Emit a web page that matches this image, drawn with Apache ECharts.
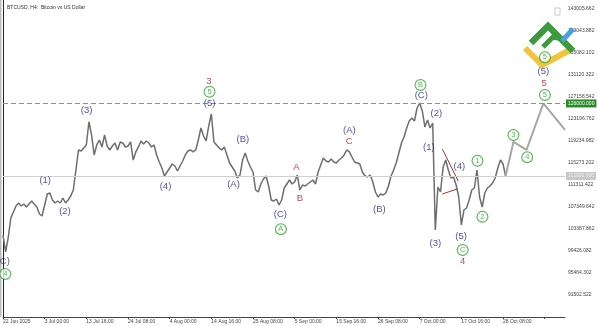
<!DOCTYPE html>
<html>
<head>
<meta charset="utf-8">
<script src="https://cdn.jsdelivr.net/npm/echarts@6/dist/echarts.min.js"></script>
<style>html,body{margin:0;padding:0;background:#fff}#c{width:598px;height:326px}</style>
</head>
<body>
<div id="c"></div>
<script>
const xLabels = ['22 Jun 2025','3 Jul 00:00','13 Jul 16:00','24 Jul 08:00','4 Aug 00:00','14 Aug 16:00','25 Aug 08:00','5 Sep 00:00','15 Sep 16:00','26 Sep 08:00','7 Oct 00:00','17 Oct 16:00','28 Oct 08:00'];
const yTicks = [91502.522, 95464.302, 99426.082, 103387.862, 107349.642, 111311.422, 115273.202, 119234.982, 123196.762, 127158.542, 131120.322, 135082.102, 139043.882, 143005.662];
const price = [
102310, 99250, 101770, 105370, 106450, 107530, 108070, 107530, 107890, 107350,
107890, 108430, 107890, 107350, 106090, 105730, 107710, 109690, 109870, 108610,
108070, 108430, 108070, 108970, 108070, 108610, 109330, 110410, 114010, 117620,
117440, 117980, 118520, 122700, 120320, 116720, 118520, 119420, 118160, 120320,
118340, 117620, 118340, 118880, 117620, 119060, 118880, 118160, 118340, 119060,
115810, 117260, 118160, 119240, 118700, 119240, 118880, 118160, 118520, 116720,
115450, 114370, 112930, 113650, 114370, 115090, 114730, 113830, 114730, 115630,
116720, 117440, 117620, 117260, 117620, 119420, 121580, 120140, 119240, 121940,
124100, 119060, 118520, 117980, 117620, 118160, 116720, 115270, 114550, 113830,
112570, 113110, 115810, 117080, 115630, 114550, 113650, 110410, 110050, 111490,
112390, 112930, 111130, 108610, 108430, 108790, 107710, 108610, 110770, 111490,
112210, 111490, 111850, 113110, 110410, 111310, 111130, 111490, 111850, 112210,
111490, 113650, 114910, 116170, 115630, 115450, 115990, 115450, 115270, 115810,
116170, 116720, 117620, 117260, 116350, 115450, 115270, 115090, 113650, 112930,
112750, 113110, 111850, 110050, 109150, 109690, 109510, 109870, 111130, 112930,
114010, 115270, 117080, 118880, 119960, 121580, 122840, 123380, 122840, 125180,
126080, 124640, 121760, 123020, 121580, 122480, 103210, 110950, 110050, 114550,
115810, 114010, 112570, 112750, 111310, 109150, 104110, 106810, 107170, 108610,
110410, 110770, 114010, 109150, 107350, 109870, 110770, 111130, 111670, 112570,
114370, 115810, 115090, 112930
];
const projX = [193, 196, 201, 207.5, 215.8];
const projY = [112930, 119060, 117620, 126000, 121220];
const targetLevel = 126000;
const currentPrice = 112930;
const redLine1 = [[168.7, 117795], [174.8, 112030]];
const redLine2 = [[168.7, 109690], [174.4, 110590]];
const blueLabels = [
[0.1, 97626, '(C)'], [16.2, 112087, '(1)'], [23.8, 106504, '(2)'], [32.1, 124692, '(3)'],
[62.4, 111006, '(4)'], [79.3, 126025, '(5)'], [88.5, 111438, '(A)'], [92.1, 119596, '(B)'],
[106.5, 106090, '(C)'], [133.0, 121090, '(A)'], [144.5, 106990, '(B)'], [160.6, 127519, '(C)'],
[166.4, 124224, '(2)'], [163.5, 118101, '(1)'], [175.2, 114734, '(4)'], [166.0, 100813, '(3)'],
[175.9, 102002, '(5)'], [207.5, 131714, '(5)']
];
const redLabels = [
[79.1, 129915, '3'], [112.7, 114500, 'A'], [114.0, 108917, 'B'], [132.9, 119109, 'C'],
[176.5, 97500, '4'], [207.8, 129626, '5']
];
const greenLabels = [
[0.9, 95285, '4'], [79.3, 128114, '5'], [106.7, 103335, 'A'], [160.3, 129320, 'B'],
[176.5, 99607, 'C'], [182.2, 115688, '1'], [184.1, 105604, '2'], [196.0, 120316, '3'],
[201.3, 116301, '4'], [208.1, 127519, '5'], [208.1, 134308, '5']
];

const chart = echarts.init(document.getElementById('c'), null, {renderer: 'canvas'});
const font = 'Liberation Sans, Arial, sans-serif';
function labelSeries(arr, color, circled) {
  return {
    type: 'scatter', silent: true, symbolSize: 0, z: 10,
    data: arr.map(d => ({value: [d[0], d[1]], name: d[2]})),
    label: circled ? {
      show: true, position: 'inside',
      formatter: p => '{c|' + p.name + '}',
      rich: {c: {color: color, fontSize: 7.5, fontFamily: font, borderColor: color, borderWidth: 1,
        borderRadius: 5.5, width: 10, height: 10, lineHeight: 11, align: 'center', backgroundColor: '#fff'}}
    } : {
      show: true, position: 'inside', formatter: p => p.name,
      color: color, fontSize: 9.5, fontFamily: font
    }
  };
}
chart.setOption({
  animation: false,
  backgroundColor: '#fff',
  title: {text: 'BTCUSD, H4:  Bitcoin vs US Dollar', left: 2, top: 0,
    textStyle: {fontSize: 5, fontWeight: 'normal', color: '#333', fontFamily: font}},
  grid: {left: 1, right: 33, top: 0, bottom: 9},
  xAxis: {
    type: 'value', min: 0, max: 215.8, interval: 16,
    axisLine: {lineStyle: {color: '#444'}},
    axisTick: {length: 2, lineStyle: {color: '#444'}},
    splitLine: {show: false},
    axisLabel: {fontSize: 5, color: '#444', align: 'left', margin: 2, fontFamily: font,
      showMaxLabel: false,
      formatter: v => (v % 16 === 0 && xLabels[v / 16]) || ''}
  },
  yAxis: {
    type: 'value', position: 'right', min: 87540, max: 144627,
    axisLine: {show: true, lineStyle: {color: '#222'}},
    axisTick: {show: false},
    splitLine: {show: false},
    axisLabel: {customValues: yTicks, fontSize: 5, color: '#444', margin: 3, fontFamily: font,
      formatter: v => v.toFixed(3)}
  },
  graphic: [
    {type: 'rect', z: 0, shape: {x: 0, y: 0, width: 1.5, height: 317}, style: {fill: '#bbb'}},
    {type: 'rect', z: 1, shape: {x: 555, y: 8, width: 5, height: 7}, style: {fill: null, stroke: '#ccc', lineWidth: 1}},
    {type: 'polyline', z: 5, shape: {points: [[525, 48], [542, 65], [570, 50]]}, style: {fill: null, stroke: '#f0c53a', lineWidth: 6}},
    {type: 'polyline', z: 5, shape: {points: [[531, 43], [548, 26], [573, 51]]}, style: {fill: null, stroke: '#3f9a3f', lineWidth: 6.5}},
    {type: 'polyline', z: 5, shape: {points: [[543, 47], [553, 37], [563, 39]]}, style: {fill: null, stroke: '#3f9a3f', lineWidth: 5}},
    {type: 'line', z: 6, shape: {x1: 562, y1: 41, x2: 573, y2: 29}, style: {stroke: '#4a9fe0', lineWidth: 5}}
  ],
  series: [
    {
      type: 'line', silent: true, showSymbol: false, symbol: 'none',
      data: price.map((v, i) => [i, v]),
      lineStyle: {color: '#6e6e6e', width: 1.5},
      markLine: {
        silent: true, symbol: 'none',
        data: [
          {yAxis: targetLevel, lineStyle: {type: [5, 3], color: '#5fae5f', width: 1},
            label: {position: 'end', distance: 1, formatter: targetLevel.toFixed(3), color: '#fff',
              backgroundColor: '#2a8a2a', fontSize: 5, padding: [2, 2, 1, 2], fontFamily: font}},
          {yAxis: currentPrice, lineStyle: {type: 'solid', color: '#cfcfcf', width: 1},
            label: {position: 'end', distance: 1, formatter: currentPrice.toFixed(3), color: '#eee',
              backgroundColor: '#c8c8c8', fontSize: 5, padding: [2, 2, 1, 2], fontFamily: font}}
        ]
      }
    },
    {
      type: 'line', silent: true, symbol: 'none',
      data: projX.map((x, i) => [x, projY[i]]),
      lineStyle: {color: '#a6a6a6', width: 2}
    },
    {type: 'line', silent: true, symbol: 'none', data: redLine1, lineStyle: {color: '#a33', width: 1}},
    {type: 'line', silent: true, symbol: 'none', data: redLine2, lineStyle: {color: '#a33', width: 1}},
    labelSeries(blueLabels, '#25257a', false),
    labelSeries(redLabels, '#961c1c', false),
    labelSeries(greenLabels, '#2f9a2f', true)
  ]
});
</script>
</body>
</html>
